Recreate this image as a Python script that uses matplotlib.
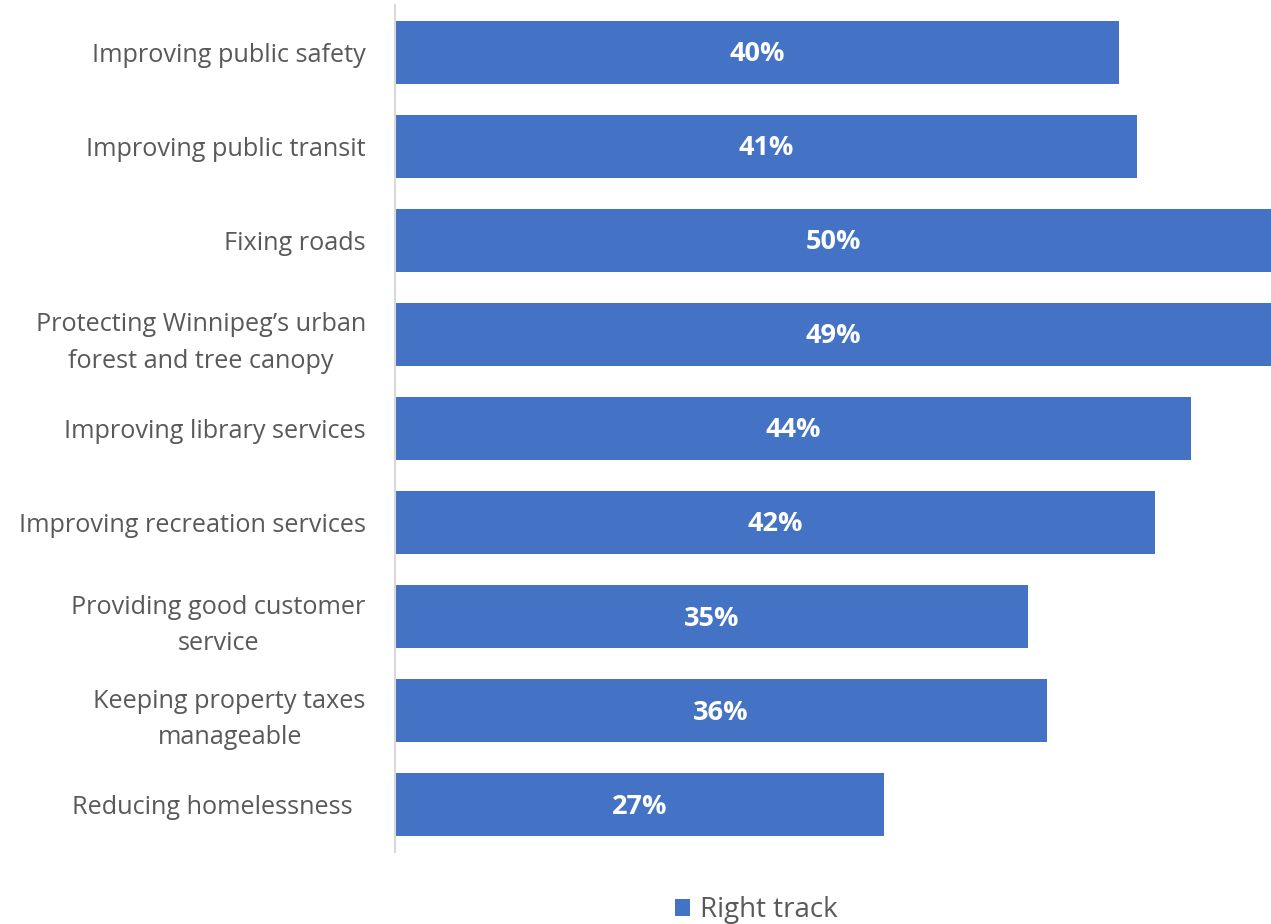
import matplotlib.pyplot as plt

plt.rcParams['font.family'] = ['Open Sans', 'DejaVu Sans']

categories = [
    'Improving public safety',
    'Improving public transit',
    'Fixing roads',
    'Protecting Winnipeg\u2019s urban\nforest and tree canopy',
    'Improving library services',
    'Improving recreation services',
    'Providing good customer\nservice',
    'Keeping property taxes\nmanageable',
    'Reducing homelessness  ',
]
right_track = [40, 41, 50, 49, 44, 42, 35, 36, 27]
series_name = 'Right track'

blue = '#4472C4'
grey_text = '#595959'

fig = plt.figure(figsize=(12.71, 9.24), dpi=100)
ax = fig.add_axes([395 / 1271, (924 - 852) / 924, 1 - 395 / 1271, (852 - 5) / 924])

y = list(range(len(categories)))
bars = ax.barh(y, right_track, height=0.67, color=blue, label=series_name)

xmax = 48.4
ax.set_xlim(0, xmax)
ax.set_ylim(len(categories) - 0.5, -0.5)

# value labels, centred on the visible part of each bar
for yi, v in zip(y, right_track):
    ax.text(min(v, xmax) / 2, yi + 0.02, f'{v}%', ha='center', va='center',
            color='white', fontsize=19.5, fontweight='bold')

ax.set_yticks(y)
ax.set_yticklabels(categories, fontsize=18.2, color=grey_text)
for lbl in ax.get_yticklabels():
    lbl.set_multialignment('center')
    lbl.set_linespacing(1.6)
ax.tick_params(axis='y', length=0, pad=21)
ax.set_xticks([])

for side in ['top', 'right', 'bottom']:
    ax.spines[side].set_visible(False)
ax.spines['left'].set_color('#D9D9D9')
ax.spines['left'].set_linewidth(1.5)

fig.legend(handles=[bars], labels=[series_name], loc='center',
           bbox_to_anchor=(756 / 1271, 1 - 910 / 924), frameon=False,
           fontsize=20, labelcolor=grey_text, handlelength=0.55, handleheight=0.55,
           handletextpad=0.35)

fig.savefig('out.png', dpi=100)
